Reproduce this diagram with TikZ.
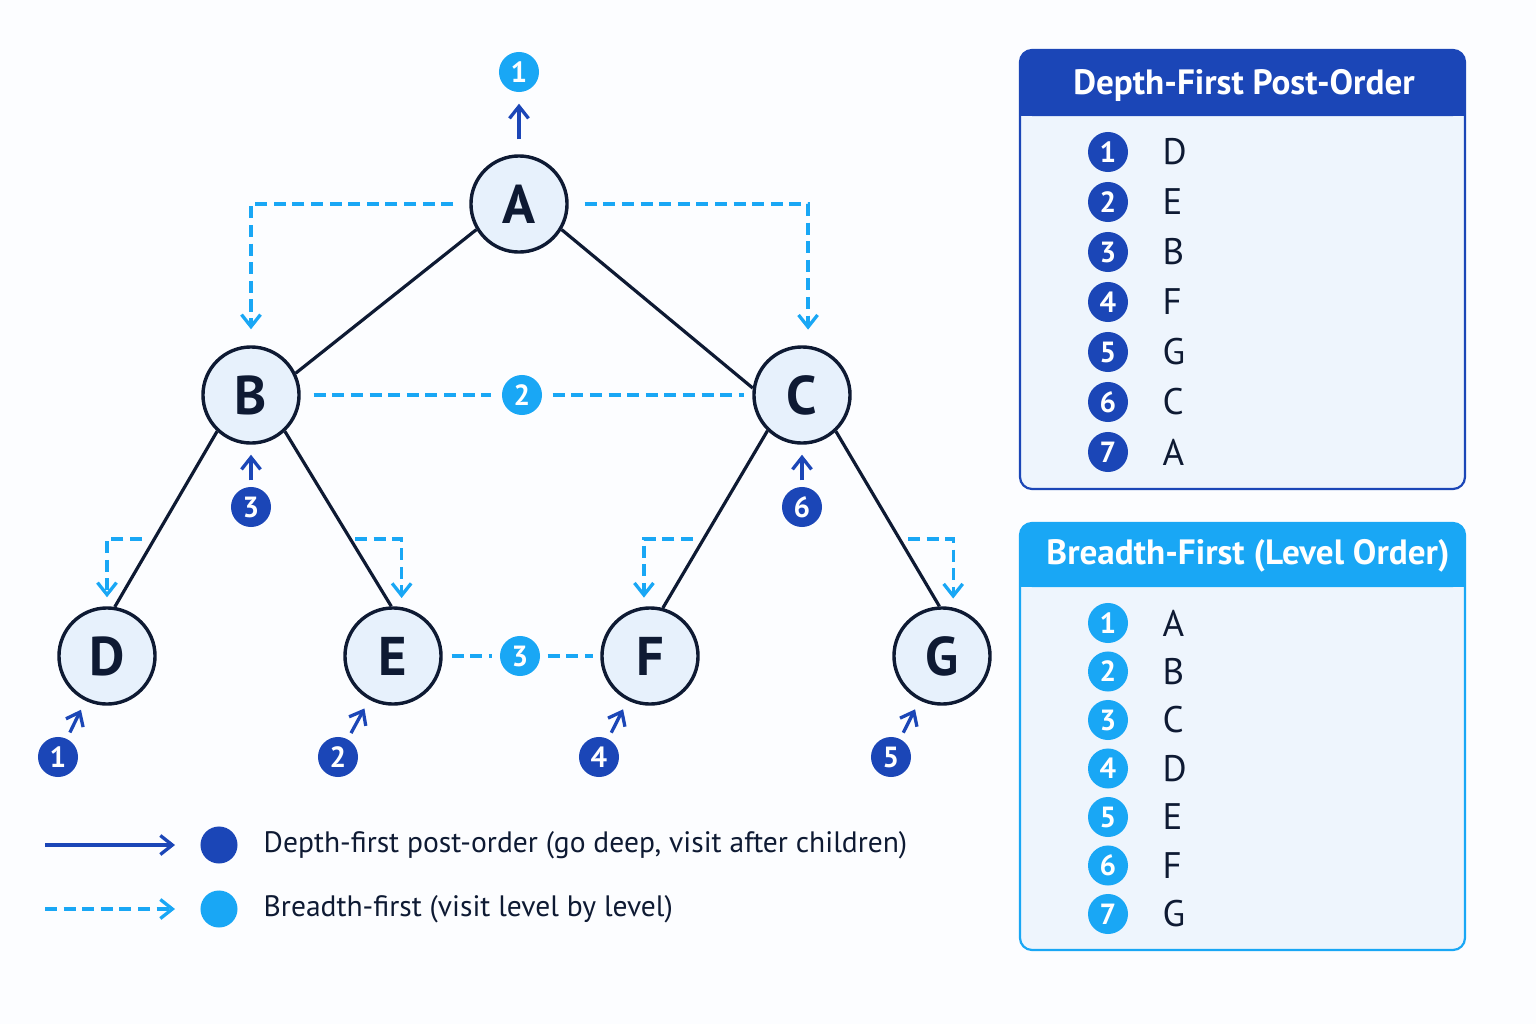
\documentclass[tikz,border=0pt]{standalone}
\usepackage{fontspec}
\setmainfont{PT Sans}
\usetikzlibrary{arrows.meta, positioning, calc}

\definecolor{dfsblue}{HTML}{1B46B7}
\definecolor{bfsblue}{HTML}{19A7F5}
\definecolor{navy}{HTML}{0E1A33}
\definecolor{vfill}{HTML}{E7F1FC}
\definecolor{panelfill}{HTML}{EEF5FD}
\definecolor{bg}{HTML}{FCFDFF}

\begin{document}
\begin{tikzpicture}[
    x=0.01cm, y=-0.01cm,
    vertex/.style={circle, draw=navy, line width=0.034cm, fill=vfill, minimum size=0.96cm,
                   inner sep=0pt, text=navy, font=\fontsize{15.5}{18}\selectfont\bfseries},
    dfsnum/.style={circle, fill=dfsblue, text=white, minimum size=0.4cm, inner sep=0pt,
                   font=\fontsize{8.3}{9}\selectfont\bfseries},
    bfsnum/.style={dfsnum, fill=bfsblue},
    tedge/.style={navy, line width=0.032cm},
    dfs/.style={->, dfsblue, line width=0.033cm},
    bfsline/.style={bfsblue, line width=0.033cm, dash pattern=on 0.12cm off 0.066cm},
    bfs/.style={bfsline, ->},
    listitem/.style={anchor=west, inner sep=0pt, text=navy, font=\fontsize{10.5}{12}\selectfont},
    legendtext/.style={anchor=west, inner sep=0pt, text=navy, font=\fontsize{8.4}{10}\selectfont},
    paneltitle/.style={text=white, font=\fontsize{10}{12}\selectfont\bfseries},
    >={Straight Barb[length=0.12cm, width=0.19cm]}
  ]
  \useasboundingbox[fill=bg] (0,0) rectangle (1536,1024);

  % --- tree ---
  \node[vertex] (A) at (519,204) {A};
  \node[vertex] (B) at (251,395) {B};
  \node[vertex] (C) at (802,395) {C};
  \node[vertex] (D) at (107,656) {D};
  \node[vertex] (E) at (393,656) {E};
  \node[vertex] (F) at (650,656) {F};
  \node[vertex] (G) at (942,656) {G};
  \draw[tedge] (A.211) -- (B.26);
  \draw[tedge] (A.329) -- (C.172);
  \draw[tedge] (B.227) -- (D.81);
  \draw[tedge] (B.313) -- (E.92);
  \draw[tedge] (C.226) -- (F.75);
  \draw[tedge] (C.313) -- (G.93);

  % --- breadth-first: level by level ---
  \node[bfsnum] (a1) at (519,72) {1};
  \draw[bfs, shorten <=0.16cm, shorten >=0.16cm] (A.west) -| (B.north);
  \draw[bfs, shorten <=0.16cm, shorten >=0.16cm] (A.east) -| (C.83);
  \node[bfsnum] (l2) at (522,395) {2};
  \draw[bfsline, shorten <=0.13cm, shorten >=0.1cm] (B) -- (l2);
  \draw[bfsline, shorten <=0.1cm, shorten >=0.08cm] (l2) -- (C);
  \coordinate (bd) at (142,539);
  \coordinate (be) at (355,539);
  \coordinate (cf) at (693,539);
  \coordinate (cg) at (908,539);
  \draw[bfs, shorten >=0.09cm] (bd) -| (D.north);
  \draw[bfs, shorten >=0.09cm] (be) -| (E.80);
  \draw[bfs, shorten >=0.09cm] (cf) -| (F.97);
  \draw[bfs, shorten >=0.09cm] (cg) -| (G.77);
  \node[bfsnum] (l3) at (520,656) {3};
  \draw[bfsline, shorten <=0.09cm, shorten >=0.07cm] (E) -- (l3);
  \draw[bfsline, shorten <=0.07cm, shorten >=0.07cm] (l3) -- (F);

  % --- depth-first post-order ---
  \draw[dfs, shorten <=0.15cm, shorten >=0.11cm] (A) -- (a1);
  \node[dfsnum] (b3) at (251,507) {3};
  \node[dfsnum] (c6) at (802,507) {6};
  \draw[dfs, shorten <=0.06cm, shorten >=0.1cm] (b3) -- (B);
  \draw[dfs, shorten <=0.06cm, shorten >=0.1cm] (c6) -- (C);
  \node[dfsnum] (d1) at (58,757) {1};
  \node[dfsnum] (e2) at (338,757) {2};
  \node[dfsnum] (f4) at (599,757) {4};
  \node[dfsnum] (g5) at (891,757) {5};
  \draw[dfs, shorten <=0.065cm, shorten >=0.1cm] (d1) -- (D);
  \draw[dfs, shorten <=0.065cm, shorten >=0.1cm] (e2) -- (E);
  \draw[dfs, shorten <=0.065cm, shorten >=0.1cm] (f4) -- (F);
  \draw[dfs, shorten <=0.065cm, shorten >=0.1cm] (g5) -- (G);

  % --- legend ---
  \coordinate (k1s) at (45,845);
  \coordinate (k1e) at (175,845);
  \coordinate (k2s) at (45,909);
  \coordinate (k2e) at (175,909);
  \draw[dfs] (k1s) -- (k1e);
  \draw[bfs] (k2s) -- (k2e);
  \node[circle, fill=dfsblue, minimum size=0.37cm, inner sep=0pt] (k1) at (219,845) {};
  \node[circle, fill=bfsblue, minimum size=0.37cm, inner sep=0pt] (k2) at (219,909) {};
  \node[legendtext] (t1) at (263,845) {Depth-first post-order (go deep, visit after children)};
  \node[legendtext] (t2) at (263,909) {Breadth-first (visit level by level)};

  % --- panel: depth-first post-order ---
  \draw[dfsblue, line width=0.022cm, fill=panelfill, rounded corners=0.12cm] (1020,50) rectangle (1465,489);
  \fill[dfsblue, rounded corners=0.12cm] (1020,50) rectangle (1465,116);
  \fill[dfsblue] (1020,90) rectangle (1465,116);
  \node[paneltitle] (potitle) at (1244,85) {Depth-First Post-Order};
  \foreach \v [count=\i] in {D,E,B,F,G,C,A} {
    \node[dfsnum] (po\i) at (1108,102+50*\i) {\i};
    \node[listitem] at (1162,102+50*\i) {\v};
  }

  % --- panel: breadth-first ---
  \draw[bfsblue, line width=0.022cm, fill=panelfill, rounded corners=0.12cm] (1020,523) rectangle (1465,950);
  \fill[bfsblue, rounded corners=0.12cm] (1020,523) rectangle (1465,587);
  \fill[bfsblue] (1020,560) rectangle (1465,587);
  \node[paneltitle] (lotitle) at (1248,556) {Breadth-First (Level Order)};
  \foreach \v [count=\i] in {A,B,C,D,E,F,G} {
    \node[bfsnum] (lo\i) at (1108,574.5+48.5*\i) {\i};
    \node[listitem] at (1162,574.5+48.5*\i) {\v};
  }

\end{tikzpicture}
\end{document}
